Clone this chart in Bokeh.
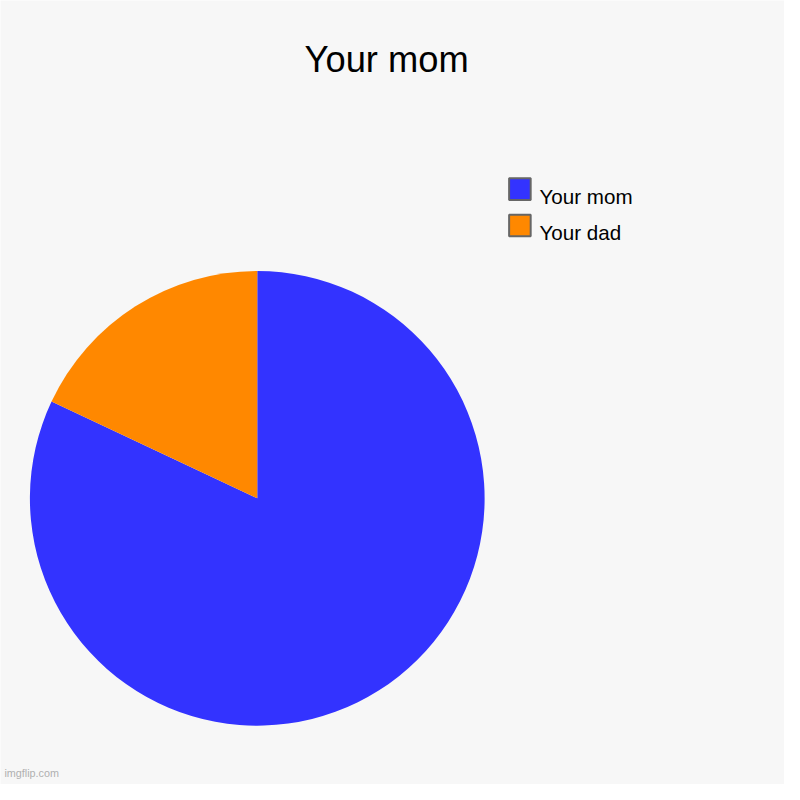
import numpy as np
from bokeh.plotting import figure
from bokeh.models import Range1d, ColumnDataSource
from bokeh.core.properties import value
from bokeh.embed import file_html
from bokeh.resources import INLINE

# ---- data ----
title_text = "Your mom"
categories = ["Your mom", "Your dad"]
values = [82, 18]
colors = ["#3333ff", "#ff8800"]
watermark = "imgflip.com"

W = H = 784
S = W / 800.0  # reference pixel -> figure pixel
FONT = "Liberation Sans"
BG = "#f7f7f7"

p = figure(width=W, height=H, output_backend="svg", toolbar_location=None,
           x_range=Range1d(0, W), y_range=Range1d(0, H), min_border=0)
p.axis.visible = False
p.grid.visible = False
p.outline_line_color = None
p.background_fill_color = BG
p.border_fill_color = BG

def fx(px):
    return px * S
def fy(py):
    return H - py * S
def fs(px):
    return "%.1fpx" % (px * S)

# pie
vals = np.array(values, dtype=float)
frac = vals / vals.sum()
cum = np.concatenate([[0], np.cumsum(frac)])
start = np.pi / 2 - cum[:-1] * 2 * np.pi
end = np.pi / 2 - cum[1:] * 2 * np.pi
src = ColumnDataSource(dict(start=start, end=end, color=colors, cat=categories))
p.wedge(x=fx(262), y=fy(508), radius=232 * S, start_angle="start", end_angle="end",
        direction="clock", fill_color="color", line_color=None, source=src)

# title
p.text(x=[fx(394)], y=[fy(60)], text=[title_text], text_align="center",
       text_baseline="alphabetic", text_font=value(FONT),
       text_font_size=fs(37), text_color="#000000")

# legend
n = len(categories)
idx = np.arange(n)
ly = np.array([fy(192.5 + 37 * i) for i in idx])
p.rect(x=[fx(530)] * n, y=ly, width=22 * S, height=22 * S, fill_color=colors,
       line_color="#666666", line_width=2)
p.text(x=[fx(550)] * n, y=ly - 7.5 * S, text=categories, text_align="left",
       text_baseline="alphabetic", text_font=value(FONT),
       text_font_size=fs(21), text_color="#000000")

# watermark
p.text(x=[fx(4)], y=[fy(788)], text=[watermark], text_align="left",
       text_baseline="alphabetic", text_font=value(FONT),
       text_font_size=fs(11), text_color="#b0b0b0")

open("out.html", "w").write(file_html(p, INLINE))
